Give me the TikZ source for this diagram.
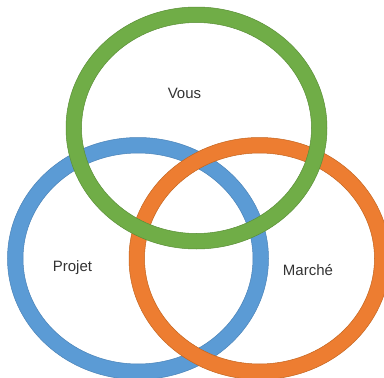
\documentclass[tikz,border=0pt]{standalone}
\usepackage{fontspec}
\setmainfont{Liberation Sans}
\definecolor{ringblue}{HTML}{5B9BD5}
\definecolor{ringblueedge}{HTML}{4A83B8}
\definecolor{ringorange}{HTML}{ED7D31}
\definecolor{ringorangeedge}{HTML}{C4651F}
\definecolor{ringgreen}{HTML}{70AD47}
\definecolor{ringgreenedge}{HTML}{5A8F37}
\definecolor{labeltext}{HTML}{333333}
\tikzset{
  ringfill/.style={fill=#1, even odd rule},
  ringedge/.style={draw=#1, line width=0.5pt},
  lbl/.style={text=labeltext, font=\fontsize{15}{17}\selectfont, inner sep=0pt}
}
\newcommand{\myring}[3]{%
  \fill[ringfill=#2] #1 ellipse (130.5pt and 121pt) #1 ellipse (115pt and 105.5pt);
  \draw[ringedge=#3] #1 ellipse (130.5pt and 121pt);
  \draw[ringedge=#3] #1 ellipse (115pt and 105.5pt);
}
\begin{document}
\begin{tikzpicture}[x=1pt,y=-1pt]
\useasboundingbox (0,0) rectangle (384,378);
\fill[white] (0,0) rectangle (384,378);
\coordinate (cb) at (138,258.5);
\coordinate (co) at (259.5,258.5);
\coordinate (cg) at (196.5,128);
\myring{(cb)}{ringblue}{ringblueedge}
\myring{(co)}{ringorange}{ringorangeedge}
\myring{(cg)}{ringgreen}{ringgreenedge}
\node[lbl] (vous) at (184.5,93) {Vous};
\node[lbl] (projet) at (72.5,268) {Projet};
\node[lbl] (marche) at (308,270) {Marché};
\end{tikzpicture}
\end{document}
